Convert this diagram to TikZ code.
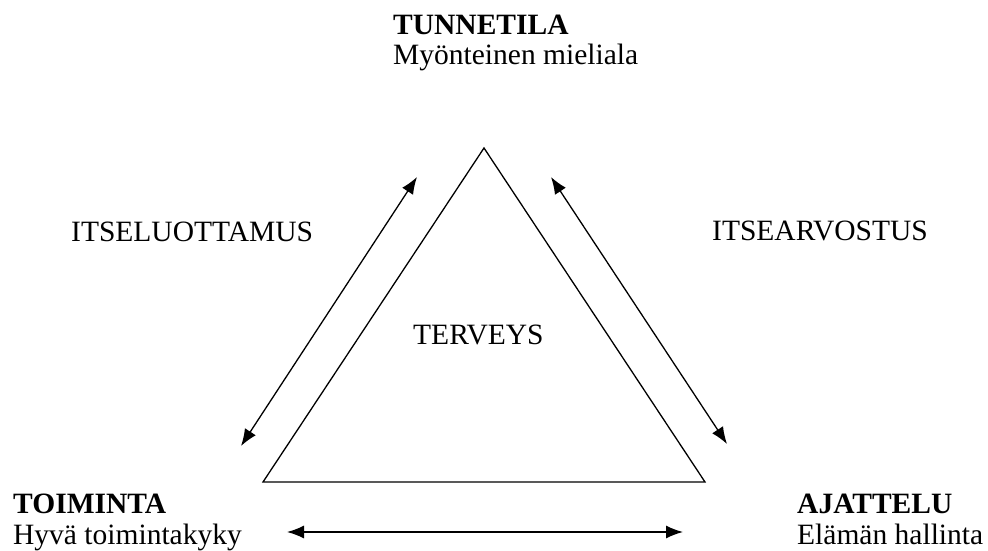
\documentclass[tikz,border=0pt]{standalone}
\usepackage{fontspec}
\setmainfont{Liberation Serif}
\usetikzlibrary{arrows.meta}
\begin{document}
\begin{tikzpicture}[x=1pt,y=-1pt,
  lbl/.style={inner sep=0pt,font=\fontsize{29.5}{34}\selectfont},
  bold/.style={font=\fontsize{29.5}{34}\selectfont\bfseries},
  twoway/.style={{Latex[length=17pt,width=13pt]}-{Latex[length=17pt,width=13pt]},line width=1.3pt},
  tri/.style={draw,line width=1.3pt}]
\useasboundingbox (0,0) rectangle (988,551);
\coordinate (top) at (484,148);
\coordinate (bl) at (263,482);
\coordinate (br) at (705,482);
\draw[tri] (top) -- (bl) -- (br) -- cycle;
\coordinate (la) at (417,177);
\coordinate (lb) at (241,446);
\coordinate (ra) at (551,177);
\coordinate (rb) at (727,444);
\coordinate (ba) at (287,532);
\coordinate (bb) at (683,532);
\draw[twoway] (la) -- (lb);
\draw[twoway] (ra) -- (rb);
\draw[twoway] (ba) -- (bb);
\node[lbl,bold,anchor=base west] (t1) at (393,35) {TUNNETILA};
\node[lbl,anchor=base west] (t2) at (393,64) {Myönteinen mieliala};
\node[lbl,anchor=base west] (il) at (71,241) {ITSELUOTTAMUS};
\node[lbl,anchor=base west] (ia) at (712,240) {ITSEARVOSTUS};
\node[lbl,anchor=base west] (te) at (413,344) {TERVEYS};
\node[lbl,bold,anchor=base west] (to1) at (13,513) {TOIMINTA};
\node[lbl,anchor=base west] (to2) at (13,544) {Hyvä toimintakyky};
\node[lbl,bold,anchor=base west] (aj1) at (797,513) {AJATTELU};
\node[lbl,anchor=base west] (aj2) at (797,544) {Elämän hallinta};
\end{tikzpicture}
\end{document}
